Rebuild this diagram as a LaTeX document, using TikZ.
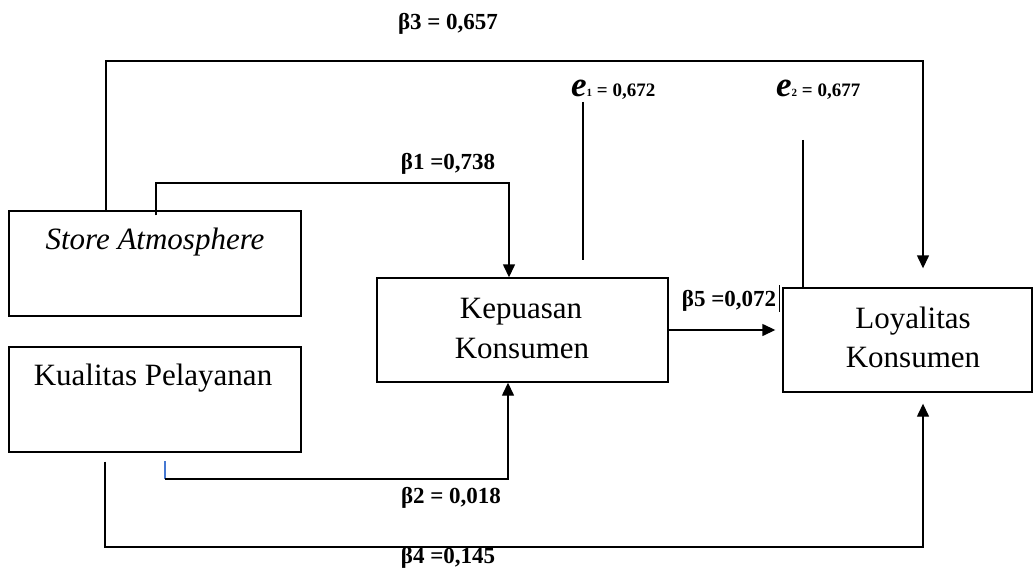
\documentclass[tikz,border=0pt]{standalone}
\usepackage{fontspec}
\setmainfont{Liberation Serif}
\usetikzlibrary{arrows.meta}
\begin{document}
\begin{tikzpicture}[x=1pt,y=-1pt,
  box/.style={draw,line width=1.4pt,inner sep=0pt},
  conn/.style={line width=1.4pt},
  arr/.style={conn,-{Triangle[length=13pt,width=12pt]}},
  boxtext/.style={font=\fontsize{31}{40}\selectfont,anchor=base,inner sep=0pt},
  coef/.style={font=\bfseries\fontsize{23}{26}\selectfont,anchor=base,inner sep=0pt},
  errlab/.style={font=\bfseries\fontsize{19}{22}\selectfont,anchor=base west,inner sep=0pt}]
\useasboundingbox (0,0) rectangle (1036,572);
\fill[white] (0,0) rectangle (1036,572);

% boxes
\node[box, minimum width=292pt, minimum height=105pt] (sa) at (155,263.5) {};
\node[box, minimum width=292pt, minimum height=105pt] (kp) at (155,399.5) {};
\node[box, minimum width=291pt, minimum height=104pt] (ks) at (522.5,330) {};
\node[box, minimum width=249pt, minimum height=104pt] (ly) at (907.5,340) {};

% box texts
\node[boxtext] (sat) at (155,250) {\textit{Store Atmosphere}};
\node[boxtext] (kpt) at (153,385) {Kualitas Pelayanan};
\node[boxtext] (kst1) at (521,318) {Kepuasan};
\node[boxtext] (kst2) at (522,358) {Konsumen};
\node[boxtext] (lyt1) at (913,328) {Loyalitas};
\node[boxtext] (lyt2) at (913,367) {Konsumen};

% coordinates
\coordinate (b3a) at (106,61);
\coordinate (b3b) at (923,61);
\coordinate (b1a) at (156,183);
\coordinate (b1b) at (509,183);
\coordinate (e1a) at (583,102);
\coordinate (e1b) at (583,260);
\coordinate (e2a) at (803,140);
\coordinate (bar1) at (779,285);
\coordinate (bar2) at (779,312);
\coordinate (b2t) at (165,461);
\coordinate (b2a) at (165,479);
\coordinate (b2b) at (508,479);
\coordinate (b4a) at (105,547);
\coordinate (b4b) at (923,547);

% connectors
\draw[arr, shorten >=19pt] (sa.north -| b3a) -- (b3a) -- (b3b) -- (ly.north -| b3b);
\draw[arr] ([yshift=-5pt]sa.north -| b1a) -- (b1a) -- (b1b) -- (ks.north -| b1b);
\draw[conn] (e1a) -- (e1b);
\draw[conn] (e2a) -- (ly.north -| e2a);
\draw[arr, shorten >=7pt] (ks.east) -- (ly.west |- ks.east);
\draw[line width=1pt] (bar1) -- (bar2);
\draw[line width=1.2pt, color={rgb,255:red,70;green,120;blue,210}] (b2t) -- (b2a);
\draw[arr] (b2a) -- (b2b) -- (ks.south -| b2b);
\draw[arr, shorten >=11pt] ([yshift=-9pt]kp.south -| b4a) -- (b4a) -- (b4b) -- (ly.south -| b4b);

% labels
\node[coef] (l3) at (448,30) {β3 = 0,657};
\node[coef] (l1) at (448,170) {β1 =0,738};
\node[coef] (l5) at (729,306) {β5 =0,072};
\node[coef] (l2) at (451,503) {β2 = 0,018};
\node[coef] (l4) at (448,563) {β4 =0,145};
\node[errlab] (le1) at (571,97) {{\fontsize{35}{35}\selectfont\textit{e}}{\fontsize{11}{11}\selectfont 1} = 0,672};
\node[errlab] (le2) at (776,97) {{\fontsize{35}{35}\selectfont\textit{e}}{\fontsize{11}{11}\selectfont 2} = 0,677};
\end{tikzpicture}
\end{document}
